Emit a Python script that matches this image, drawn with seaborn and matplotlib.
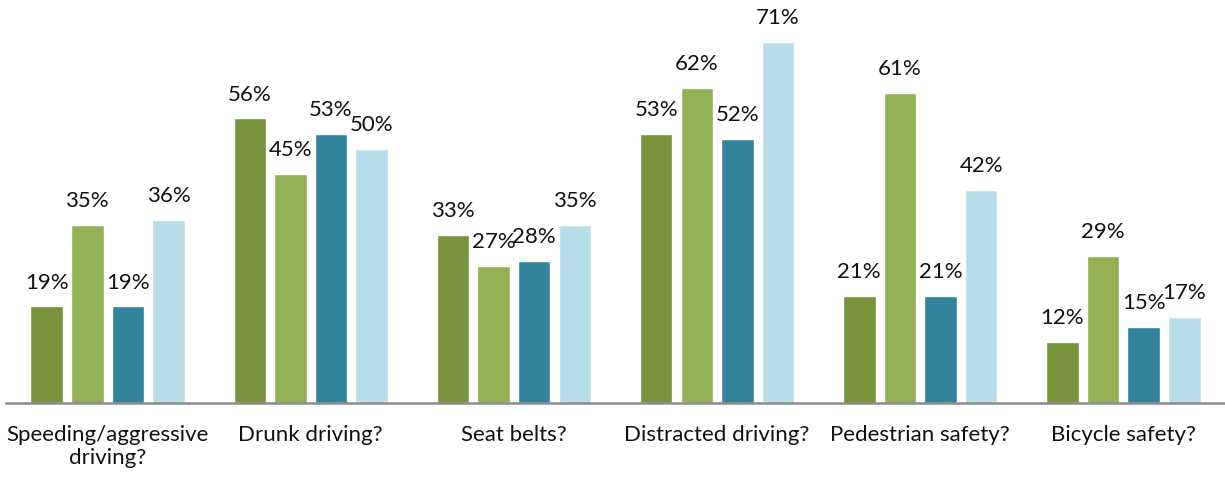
import pandas as pd
import matplotlib.pyplot as plt
import seaborn as sns

# categories and series (values in %)
categories = ["Speeding/aggressive\ndriving?", "Drunk driving?", "Seat belts?",
              "Distracted driving?", "Pedestrian safety?", "Bicycle safety?"]
series = ["S1", "S2", "S3", "S4"]
s1 = [19, 56, 33, 53, 21, 12]
s2 = [35, 45, 27, 62, 61, 29]
s3 = [19, 53, 28, 52, 21, 15]
s4 = [36, 50, 35, 71, 42, 17]
colors = ["#77933C", "#92B054", "#31849B", "#B7DEE8"]

rows = []
for name, vals in zip(series, [s1, s2, s3, s4]):
    for cat, v in zip(categories, vals):
        rows.append({"category": cat, "series": name, "value": v})
df = pd.DataFrame(rows)

sns.set_style("white")
plt.rcParams['font.family'] = ['Lato', 'DejaVu Sans']

fig = plt.figure(figsize=(12.25, 4.78), dpi=100)
ax = fig.add_axes([6 / 1225, 75 / 478, 1 - 6 / 1225, 403 / 478])

sns.barplot(data=df, x="category", y="value", hue="series", order=categories,
            hue_order=series, palette=colors, width=0.8, gap=0.2,
            saturation=1, legend=False, ax=ax)

for cont in ax.containers:
    ax.bar_label(cont, labels=[f"{int(v)}%" for v in cont.datavalues],
                 padding=10, fontsize=16, color="#111111")

ax.set_ylim(0, 79.3)
ax.set_xlim(-0.5, len(categories) - 0.5)
ax.set_xlabel("")
ax.set_ylabel("")
ax.set_yticks([])
ax.tick_params(axis="x", length=0, pad=16, labelsize=16, labelcolor="#111111")
for side in ["top", "right", "left"]:
    ax.spines[side].set_visible(False)
ax.spines["bottom"].set_color("#8c8c8c")
ax.spines["bottom"].set_linewidth(1.8)

fig.savefig("out.png", dpi=100)
